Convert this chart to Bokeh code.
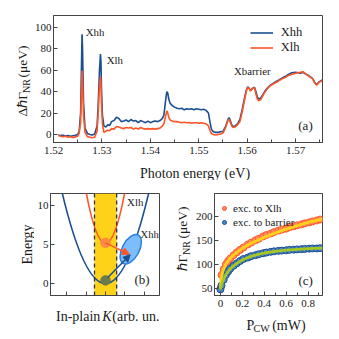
from bokeh.plotting import figure
from bokeh.layouts import column, row
from bokeh.models import (Label, Legend, LegendItem, FixedTicker, Arrow, NormalHead,
                          Span, BoxAnnotation, Range1d)
from bokeh.embed import file_html
from bokeh.resources import INLINE
import math

FONT = "Liberation Serif"
BLUE = "#1b4f91"
ORANGE = "#ff5526"
INK = "#1a1a1a"
FRAME = "#444444"

# ---------------- (a) spectra ----------------
energy = [
    1.5210, 1.5215, 1.5220, 1.5225, 1.5230, 1.5235, 1.5240, 1.5245, 1.5250,
    1.5253, 1.5256, 1.5258, 1.5259, 1.5260, 1.5262, 1.5265, 1.5270,
    1.5275, 1.5280, 1.5285, 1.5290,
    1.5292, 1.5295, 1.5297, 1.5298, 1.5299, 1.5301, 1.5304,
    1.5308, 1.5312, 1.5316, 1.5320, 1.5325, 1.5330, 1.5335, 1.5340, 1.5345, 1.5350,
    1.5355, 1.5360, 1.5365, 1.5370, 1.5375, 1.5380, 1.5385, 1.5390, 1.5395, 1.5400,
    1.5405, 1.5410, 1.5415, 1.5420, 1.5425,
    1.5428, 1.5431, 1.5434, 1.5436, 1.5438, 1.5441, 1.5445, 1.5450,
    1.5455, 1.5460, 1.5465, 1.5470, 1.5475, 1.5480, 1.5485, 1.5490, 1.5495, 1.5500,
    1.5505, 1.5510, 1.5515,
    1.5520, 1.5523, 1.5526, 1.5530, 1.5535, 1.5540, 1.5545, 1.5550, 1.5555,
    1.5558, 1.5561, 1.5563, 1.5565, 1.5568, 1.5571, 1.5575, 1.5580,
    1.5585, 1.5590, 1.5594, 1.5598, 1.5601, 1.5604, 1.5607, 1.5611, 1.5615, 1.5618,
    1.5621, 1.5624, 1.5628, 1.5632, 1.5636, 1.5642, 1.5648, 1.5655, 1.5662, 1.5670,
    1.5678, 1.5685, 1.5692, 1.5700, 1.5705, 1.5710, 1.5715, 1.5720, 1.5725, 1.5730,
    1.5735, 1.5740, 1.5744, 1.5748, 1.5752, 1.5756,
]
d_xhh = [
    -0.5, -1.0, -0.6, -1.4, -0.9, -1.6, -1.1, -0.7, 0.0,
    3, 20, 70, 93.5, 80, 30, 6, 1,
    0, -0.5, 0.5, 8,
    25, 60, 75, 68, 45, 18, 8,
    7, 9, 8.5, 12, 13, 16, 15, 12, 12.5, 13.5,
    12, 14, 12.5, 13, 11, 13, 12, 11, 12.5, 11,
    12, 12.5, 12, 13, 15,
    18, 30, 40, 38.5, 33, 29, 27, 25.5,
    24.5, 24, 24.5, 23, 24, 23.5, 24, 23, 24, 23.5,
    23, 23.5, 22.5,
    20, 12, 5, 2.5, 2, 2, 2.5, 3, 7,
    11, 15, 15.5, 13, 9, 7.5, 8, 10,
    14, 24, 33, 41, 44.5, 43, 41, 43, 44, 40,
    35, 33, 34, 37, 40, 43.5, 46, 48, 50, 52,
    54, 56, 57.5, 58, 57.5, 57, 58, 56.5, 55.5, 54,
    52, 48, 46.5, 49, 50, 51,
]
d_xlh = [
    -1.0, -1.6, -2.0, -1.7, -2.6, -2.1, -2.9, -2.2, -1.6,
    1, 12, 45, 59.5, 50, 18, 2, -2,
    -2.5, -3, -2.5, 3,
    18, 45, 54, 48, 30, 10, 2,
    3, 4, 3.5, 5.5, 5, 7.5, 7, 6, 5.5, 6.5,
    6, 6.5, 5, 6, 5, 6.5, 5.5, 5, 5.5, 5,
    5.5, 5, 5.5, 6, 8,
    10, 16, 22, 20, 16, 13.5, 12.5, 12,
    12, 11.5, 11, 11.5, 11, 11.2, 10.5, 11, 11, 10.5,
    11, 10.5, 10,
    8, 4, 1, 0, -0.5, 0, 0.5, 1.5, 6,
    10, 14, 14, 11.5, 8, 6.5, 7, 9,
    12, 22, 31, 40, 44, 43, 40.5, 43, 43.5, 38,
    33, 31.5, 32.5, 36, 39, 43, 45.5, 47.5, 49, 51.5,
    53, 55, 56, 57, 57.5, 58, 58.5, 57, 55, 53.5,
    52, 47.5, 46, 48.5, 49.5, 50,
]
a_xticks = [1.52, 1.53, 1.54, 1.55, 1.56, 1.57]
a_xminor = [1.525, 1.535, 1.545, 1.555, 1.565, 1.575]
a_yticks = [0, 20, 40, 60, 80, 100]

# ---------------- (b) schematic ----------------
b_ticks_k = [-2, -1, 0, 1, 2]
b_yticks = [0, 5, 10]
band_lo, band_hi = -0.57, 0.58
# parabolas as quadratic Bezier curves: x0, y0, x1, y1, cx, cy
hh_curve = [-2.4, 13.25, 2.4, 13.25, 0.0, -13.25]
lh_curve = [-1.1, 13.0, 1.1, 13.0, 0.0, -2.7]
lh_dot = [0.0, 5.2]
hh_dot = [0.0, 0.4]
ell = [1.31, 4.38]          # centre of the Xhh ellipse (k, E)
red_arrow = [0.0, 5.2, 1.24, 3.74]
blue_arrow = [0.12, 0.77, 1.28, 3.67]

# ---------------- (c) power dependence ----------------
p_cw = [0.00, 0.01, 0.03, 0.05, 0.07, 0.09, 0.12, 0.15, 0.18, 0.21, 0.25, 0.28, 0.32, 0.35,
        0.39, 0.42, 0.46, 0.49, 0.53, 0.56, 0.60, 0.63, 0.67, 0.70, 0.74, 0.77, 0.81, 0.84,
        0.88, 0.91]
g_xlh = [50, 78, 90, 100, 107, 112, 119, 125, 130, 135, 141, 145, 150, 153,
         158, 161, 164, 167, 170, 172, 174, 177, 179, 181, 183, 185, 187, 189,
         191, 193]
g_bar = [48, 56, 68, 78, 85, 91, 97, 102, 107, 111, 114, 117, 119, 121,
         123, 124.5, 126, 127, 128, 128.5, 129, 130, 130.5, 131, 131.5, 132, 132.5, 133,
         133, 133.5]
fit_x = [0.0, 0.005, 0.01, 0.02, 0.04, 0.06, 0.08, 0.10, 0.15, 0.20, 0.25, 0.30,
         0.40, 0.50, 0.60, 0.70, 0.80, 0.93]
fit_xlh = [50, 66, 74, 84, 96, 104, 110, 115, 125, 133, 140, 146,
           156, 165, 173, 180, 187, 194]
fit_bar = [48, 52, 57, 64, 74, 82, 88, 93, 102, 109, 114, 118,
           123.5, 127, 129.5, 131, 132.5, 133.8]
c_xticks = [0, 0.2, 0.4, 0.6, 0.8]
c_xminor = [0.1, 0.3, 0.5, 0.7, 0.9]
c_yticks = [50, 100, 150, 200]


def style(p):
    p.grid.visible = False
    p.outline_line_color = FRAME
    p.outline_line_width = 1
    p.background_fill_color = "white"
    p.border_fill_color = "white"
    for ax in p.axis:
        ax.axis_line_color = FRAME
        ax.major_tick_line_color = FRAME
        ax.minor_tick_line_color = FRAME
        ax.major_tick_in = 4
        ax.major_tick_out = 0
        ax.minor_tick_in = 3
        ax.minor_tick_out = 0
        ax.major_label_text_font = FONT
        ax.major_label_text_font_size = "11px"
        ax.major_label_text_color = INK
        ax.major_label_standoff = 4


def lab(p, text, x, y, size, angle=0.0, align="left", baseline="middle", fstyle="normal"):
    p.add_layout(Label(x=x, y=y, text=text, angle=angle,
                       text_align=align, text_baseline=baseline, text_font=FONT,
                       text_font_size=f"{size}px", text_font_style=fstyle,
                       text_color=INK))


def textfig(w, h):
    # blank helper canvas whose data units are pixels, used for axis titles
    f = figure(width=w, height=h, output_backend="svg", toolbar_location=None,
               x_range=Range1d(0, w), y_range=Range1d(0, h),
               x_axis_location=None, y_axis_location=None, min_border=0,
               outline_line_color=None)
    f.grid.visible = False
    return f


# ================= panel (a) =================
p1 = figure(width=308, height=160, output_backend="svg", toolbar_location=None,
            x_range=Range1d(1.52, 1.57555), y_range=Range1d(-7.45, 110.9),
            min_border_left=19, min_border_right=17, min_border_top=15, min_border_bottom=18)
r_hh = p1.line(energy, d_xhh, line_color=BLUE, line_width=1.6)
r_lh = p1.line(energy, d_xlh, line_color=ORANGE, line_width=1.6)
style(p1)
p1.xaxis.ticker = FixedTicker(ticks=a_xticks, minor_ticks=a_xminor)
p1.yaxis.ticker = FixedTicker(ticks=a_yticks)
p1.yaxis.major_label_standoff = 2
leg1 = Legend(items=[LegendItem(label="Xhh", renderers=[r_hh]),
                     LegendItem(label="Xlh", renderers=[r_lh])],
              location=(196.7, 87), padding=0, spacing=0, glyph_width=23, glyph_height=15,
              label_height=15, label_standoff=8, label_text_font=FONT,
              label_text_font_size="12.5px", label_text_color=INK,
              border_line_alpha=0, background_fill_alpha=0)
p1.add_layout(leg1)
lab(p1, "Xhh", 1.52667, 95.3, 10.8)
lab(p1, "Xlh", 1.5310, 69.6, 10.8)
lab(p1, "Xbarrier", 1.55728, 59.6, 10.8)
lab(p1, "(a)", 1.57055, 8.4, 13)

ya1 = textfig(31, 180)
lab(ya1, "ΔℏΓ", 22, 64, 13.5, angle=math.pi / 2)
lab(ya1, "NR", 25.5, 87.5, 10, angle=math.pi / 2)
lab(ya1, "(μeV)", 22, 103, 13.5, angle=math.pi / 2)
xa1 = textfig(308, 20)
lab(xa1, "Photon energy (eV)", 162, 7.5, 14, align="center", baseline="alphabetic")

# ================= panel (b) =================
p2 = figure(width=141, height=122, output_backend="svg", toolbar_location=None,
            x_range=Range1d(-2.85, 2.80), y_range=Range1d(-1.53, 11.5),
            min_border_left=16, min_border_right=16, min_border_top=13, min_border_bottom=7)
p2.add_layout(BoxAnnotation(left=band_lo, right=band_hi, fill_color="#ffd21a", fill_alpha=1,
                            line_alpha=0, level="underlay"))
for loc in (band_lo, band_hi):
    p2.add_layout(Span(location=loc, dimension="height", line_color="#333333",
                       line_dash="4 3", line_width=1.3))
p2.quadratic(x0=[hh_curve[0]], y0=[hh_curve[1]], x1=[hh_curve[2]], y1=[hh_curve[3]],
             cx=[hh_curve[4]], cy=[hh_curve[5]], line_color=BLUE, line_width=1.6)
p2.quadratic(x0=[lh_curve[0]], y0=[lh_curve[1]], x1=[lh_curve[2]], y1=[lh_curve[3]],
             cx=[lh_curve[4]], cy=[lh_curve[5]], line_color=ORANGE, line_width=1.6)
p2.ellipse(x=[ell[0]], y=[ell[1]], width=17, height=32, angle=-0.49,
           width_units="screen", height_units="screen",
           fill_color="#7dbdfc", line_color="#2a7de1", line_width=1.5)
p2.scatter(x=[lh_dot[0]], y=[lh_dot[1]], size=9.5, fill_color="#ff8646", line_color="#ff8646",
           fill_alpha=0.9)
p2.scatter(x=[hh_dot[0]], y=[hh_dot[1]], size=9.5, fill_color="#6b7b4c", line_color="#6b7b4c")
p2.add_layout(Arrow(end=NormalHead(size=7, fill_color=ORANGE, line_color=ORANGE),
                    x_start=red_arrow[0], y_start=red_arrow[1], x_end=red_arrow[2],
                    y_end=red_arrow[3], line_color=ORANGE, line_width=1.5))
p2.add_layout(Arrow(end=NormalHead(size=7, fill_color=BLUE, line_color=BLUE),
                    x_start=blue_arrow[0], y_start=blue_arrow[1], x_end=blue_arrow[2],
                    y_end=blue_arrow[3], line_color=BLUE, line_width=1.5))
style(p2)
p2.xaxis.ticker = FixedTicker(ticks=[], minor_ticks=b_ticks_k)
p2.xaxis.minor_tick_in = 4
p2.yaxis.ticker = FixedTicker(ticks=b_yticks)
p2.yaxis.major_label_standoff = 2
lab(p2, "Xlh", 1.12, 10.4, 10.8)
lab(p2, "Xhh", 1.82, 6.2, 10.5)
lab(p2, "(b)", 1.5, 0.5, 13)

ya2 = textfig(34, 159)
lab(ya2, "Energy", 27, 95, 14, angle=math.pi / 2, align="center")
xa2 = textfig(141, 37)
lab(xa2, "In-plain", 64.5, 23.5, 14, align="right", baseline="alphabetic")
lab(xa2, "K", 73, 23.5, 14, align="center", baseline="alphabetic", fstyle="italic")
lab(xa2, "(arb. un.)", 80, 23.5, 14, baseline="alphabetic")

# ================= panel (c) =================
p3 = figure(width=147, height=132, output_backend="svg", toolbar_location=None,
            x_range=Range1d(-0.054, 0.932), y_range=Range1d(35.3, 247),
            min_border_left=21, min_border_right=17, min_border_top=13, min_border_bottom=17)
s_lh = p3.scatter(p_cw, g_xlh, size=7, fill_color="#ff8c60", line_color="#ff5a2a", line_width=1)
s_bar = p3.scatter(p_cw, g_bar, size=7, fill_color="#4f86c6", line_color="#1b4f91", line_width=1)
p3.line(fit_x, fit_xlh, line_color="#ffd21a", line_width=2.8)
p3.line(fit_x, fit_bar, line_color="#a5c81e", line_width=2.8)
style(p3)
p3.xaxis.ticker = FixedTicker(ticks=c_xticks, minor_ticks=c_xminor)
p3.xaxis.major_label_overrides = {0: "0"}
p3.yaxis.ticker = FixedTicker(ticks=c_yticks)
p3.yaxis.major_label_standoff = 2
leg3 = Legend(items=[LegendItem(label="exc. to Xlh", renderers=[s_lh]),
                     LegendItem(label="exc. to barrier", renderers=[s_bar])],
              location=(5, 66), padding=0, spacing=0, glyph_width=10, glyph_height=14,
              label_height=14, label_standoff=4, label_text_font=FONT,
              label_text_font_size="11px", label_text_color=INK,
              border_line_alpha=0, background_fill_alpha=0)
p3.add_layout(leg3)
lab(p3, "(c)", 0.712, 66.8, 13)

ya3 = textfig(17, 159)
lab(ya3, "ℏΓ", 7, 69, 13.5, angle=math.pi / 2)
lab(ya3, "NR", 11, 84.5, 10, angle=math.pi / 2)
lab(ya3, "(μeV)", 7, 101, 13.5, angle=math.pi / 2)
xa3 = textfig(147, 27)
lab(xa3, "P", 54, 14, 14, align="right", baseline="alphabetic")
lab(xa3, "CW", 64, 11, 10, align="center", baseline="alphabetic")
lab(xa3, "(mW)", 78.5, 14, 14, baseline="alphabetic")

top = row(ya1, column(p1, xa1, spacing=0), spacing=0)
bottom = row(ya2, column(p2, xa2, spacing=0), ya3, column(p3, xa3, spacing=0), spacing=0)
layout = column(top, bottom, spacing=0)
open("out.html", "w").write(file_html(layout, INLINE))
